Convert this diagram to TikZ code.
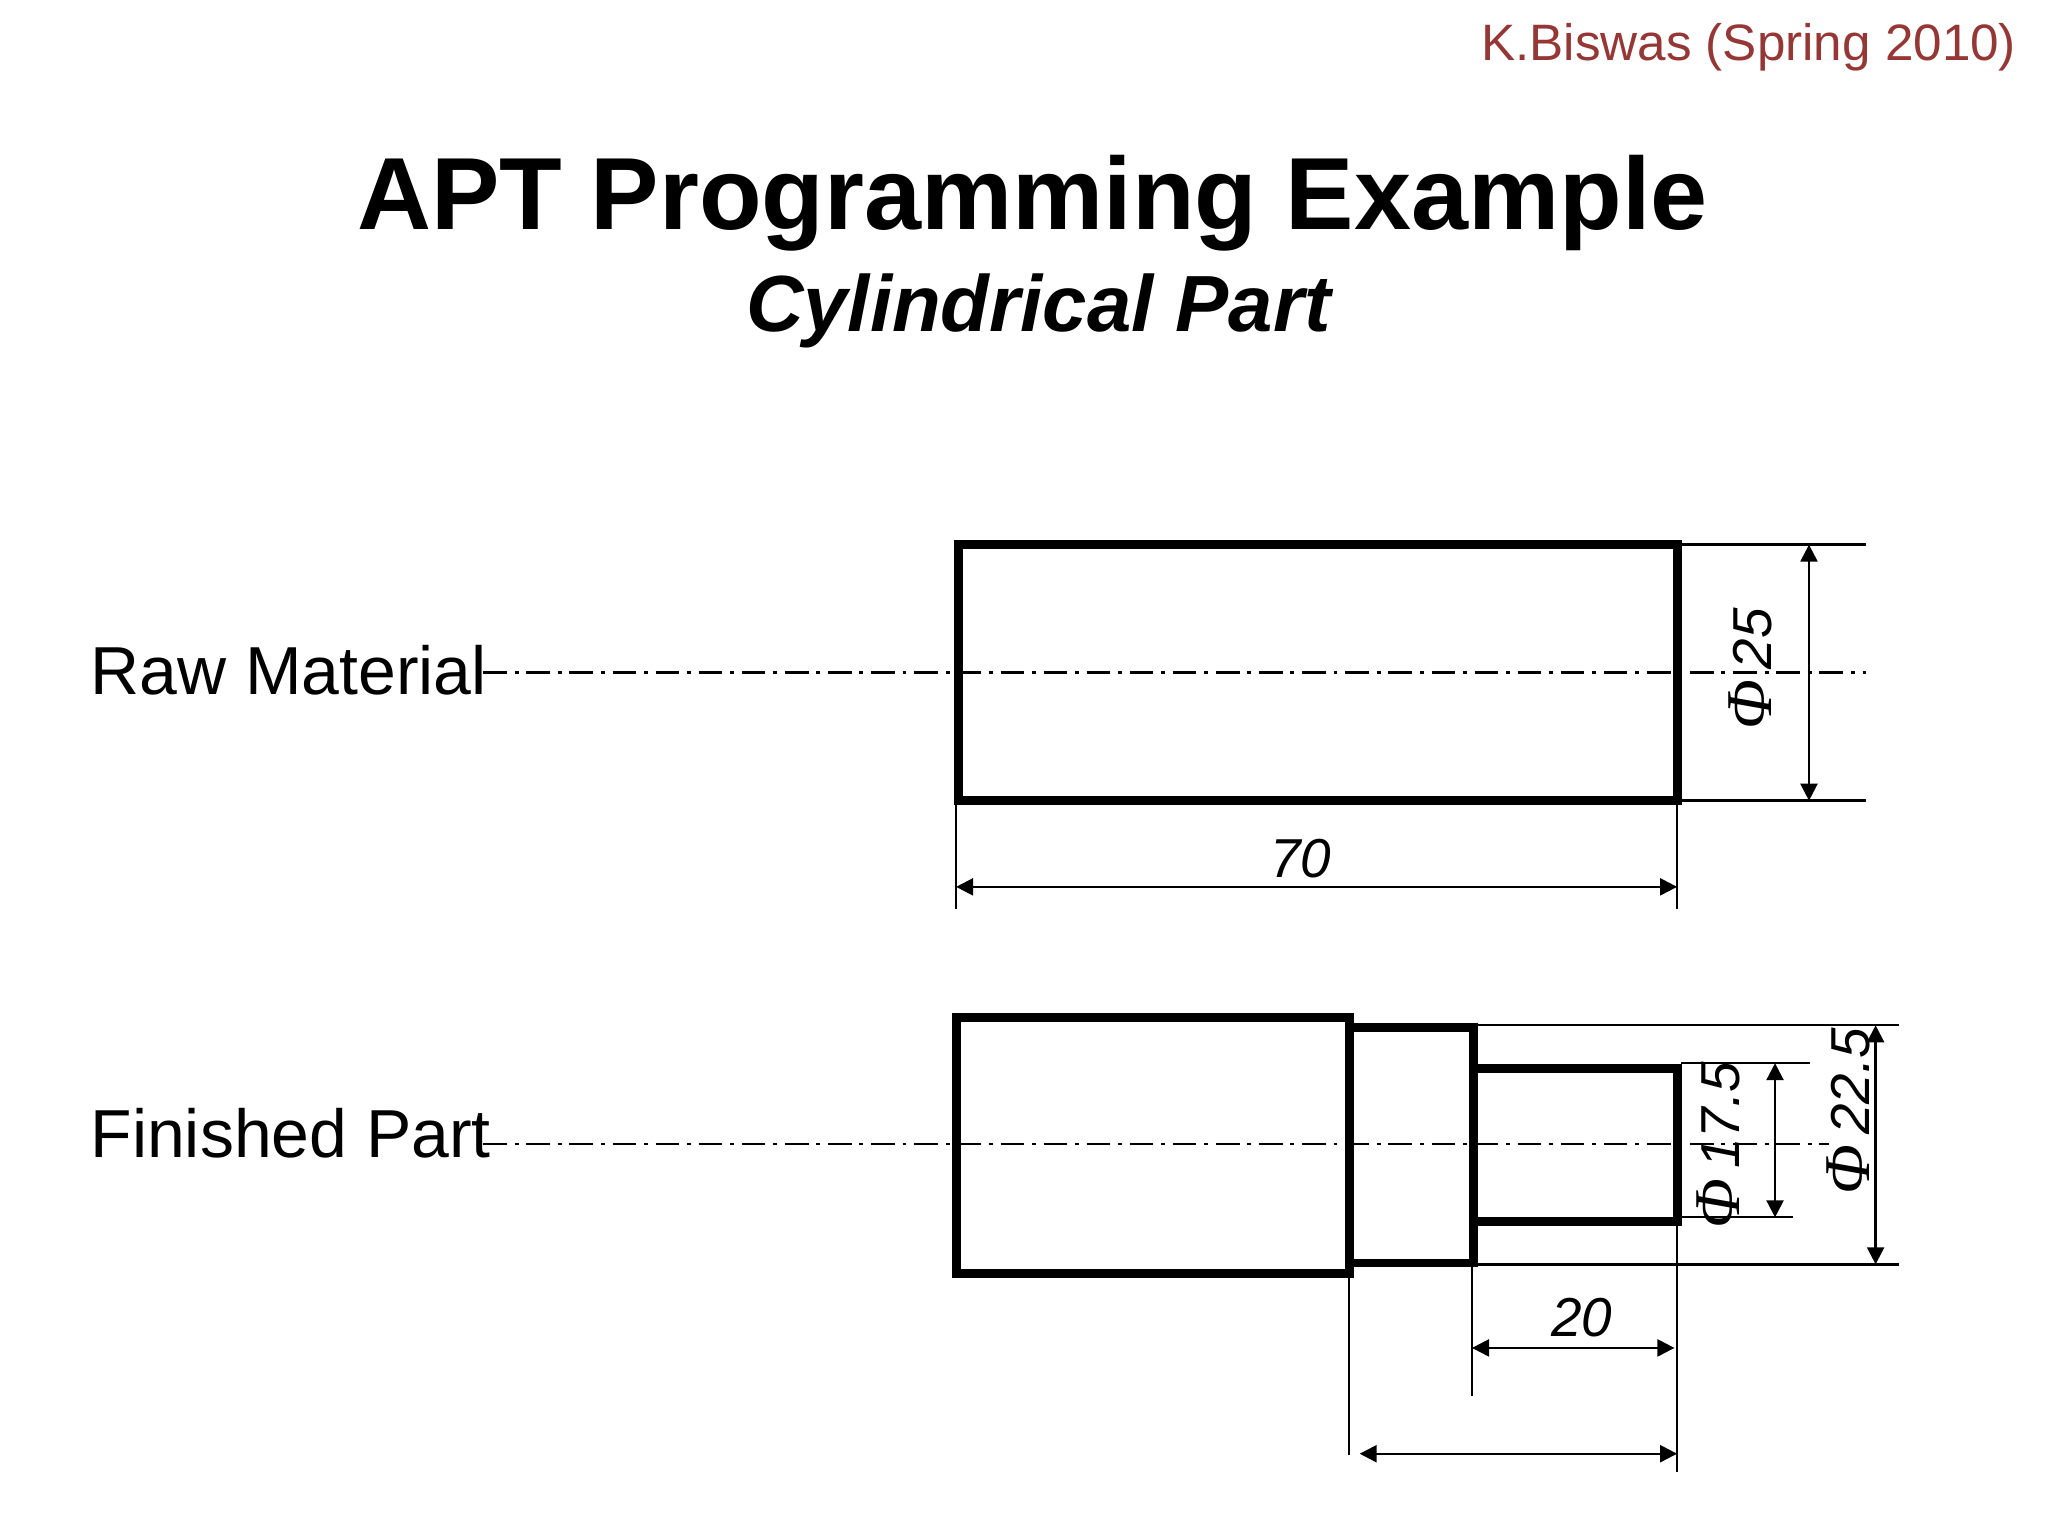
\documentclass[tikz,border=0pt]{standalone}
\usepackage{fontspec}
\setmainfont{Liberation Sans}
\newfontfamily\phifont{Liberation Serif}
\usetikzlibrary{arrows.meta}
\definecolor{authorred}{HTML}{953735}
\tikzset{
  part/.style={line width=3.4pt,miter limit=10},
  thin line/.style={line width=.9pt},
  dim/.style={line width=.9pt,{Triangle[length=6.5pt,width=6.5pt]}-{Triangle[length=6.5pt,width=6.5pt]}},
  axis line/.style={line width=.9pt,dash pattern=on 9pt off 3pt on 1.5pt off 3pt},
  label/.style={inner sep=0pt,anchor=base west,font=\fontsize{26}{30}\selectfont},
  size/.style={inner sep=0pt,font=\fontsize{21}{25}\selectfont\itshape}
}
\newcommand{\diam}{{\phifont\itshape\fontsize{25}{25}\selectfont\char"03A6}\hspace{4pt}}
\begin{document}
\begin{tikzpicture}[x=.5pt,y=-.5pt]
  \useasboundingbox (0,0) rectangle (1568,1176);
  \node[inner sep=0pt,anchor=base east,text=authorred,font=\fontsize{19.6}{24}\selectfont] (author) at (1544,46) {K.Biswas (Spring 2010)};
  \node[inner sep=0pt,anchor=base,font=\fontsize{39.25}{46}\selectfont\bfseries] (heading) at (790.5,176) {APT Programming Example};
  \node[inner sep=0pt,anchor=base,font=\fontsize{30.5}{36}\selectfont\bfseries\itshape] (subheading) at (795,254) {Cylindrical Part};
  \node[label] (rawlabel) at (69,532) {Raw Material};
  \node[label] (finishedlabel) at (69,886) {Finished Part};
  \draw[axis line] (370,515) -- (1429,515);
  \draw[axis line] (370,876) -- (1400,876);
  \draw[part] (734,417) rectangle (1284,613);
  \draw[part] (732,779) rectangle (1033,975);
  \draw[part] (1033,787) rectangle (1128,967);
  \draw[part] (1128,818) rectangle (1284,935);
  \draw[thin line] (1284,417) -- (1429,417);
  \draw[thin line] (1284,613) -- (1429,613);
  \draw[thin line] (732,613) -- (732,696);
  \draw[thin line] (1284,613) -- (1284,696);
  \draw[thin line] (1128,785) -- (1454,785);
  \draw[thin line] (1128,968) -- (1454,968);
  \draw[thin line] (1287,814) -- (1386,814);
  \draw[thin line] (1287,932) -- (1373,932);
  \draw[thin line] (1127,968) -- (1127,1069);
  \draw[thin line] (1284,935) -- (1284,1127);
  \draw[thin line] (1033,975) -- (1033,1114);
  \draw[dim] (1385,417) -- (1385,613);
  \draw[dim] (732,679) -- (1284,679);
  \draw[dim] (1436,785) -- (1436,968);
  \draw[dim] (1359,814) -- (1359,932);
  \draw[dim] (1127,1032) -- (1282,1032);
  \draw[dim] (1041,1113) -- (1284,1113);
  \node[size] (rawlength) at (996,657) {70};
  \node[size] (steplength) at (1211,1009) {20};
  \node[size,rotate=90] (rawdiam) at (1340,512) {\diam 25};
  \node[size,rotate=90] (smalldiam) at (1316,877) {\diam 17.5};
  \node[size,rotate=90] (middiam) at (1415,851) {\diam 22.5};
\end{tikzpicture}
\end{document}
